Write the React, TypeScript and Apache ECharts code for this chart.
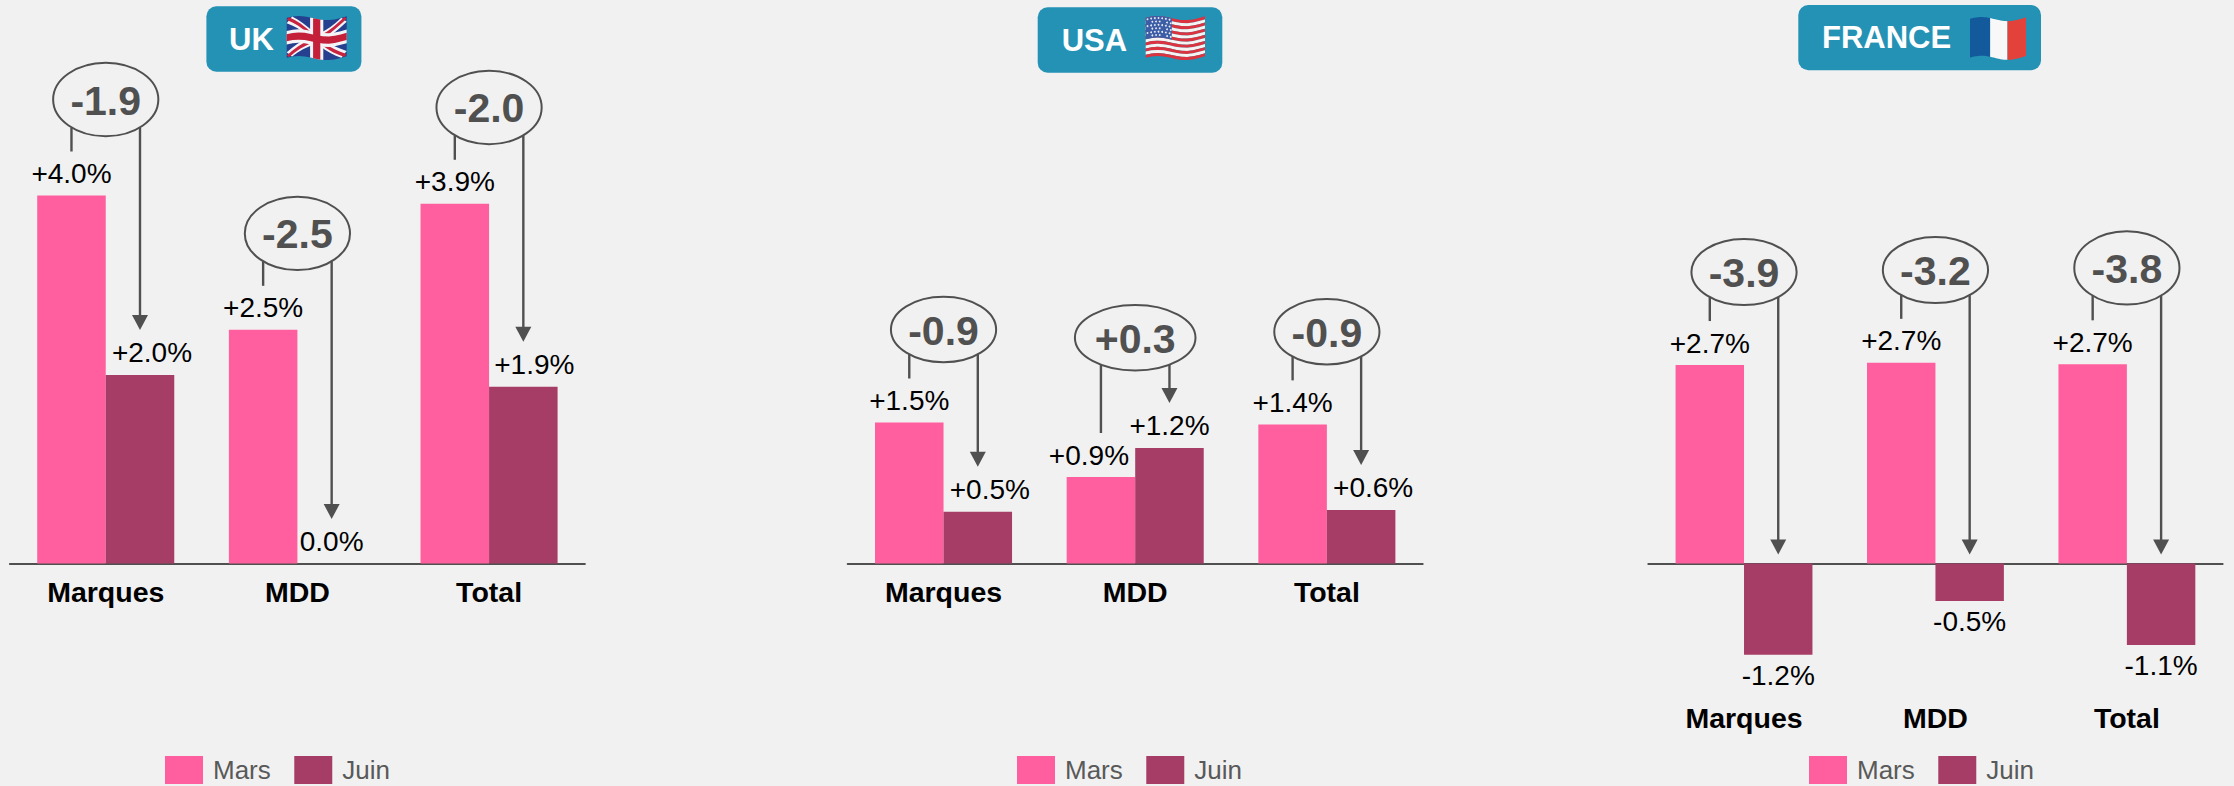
import React, { useEffect, useRef } from "react";
import * as echarts from "echarts";

const CATEGORIES = ["Marques", "MDD", "Total"];

const UK_MARS = [4.0, 2.54, 3.91];
const UK_JUIN = [2.05, 0, 1.92];
const UK_MARS_LABELS = ["+4.0%", "+2.5%", "+3.9%"];
const UK_JUIN_LABELS = ["+2.0%", "0.0%", "+1.9%"];
const UK_DELTAS = ["-1.9", "-2.5", "-2.0"];

const USA_MARS = [1.5, 0.92, 1.48];
const USA_JUIN = [0.55, 1.23, 0.57];
const USA_MARS_LABELS = ["+1.5%", "+0.9%", "+1.4%"];
const USA_JUIN_LABELS = ["+0.5%", "+1.2%", "+0.6%"];
const USA_DELTAS = ["-0.9", "+0.3", "-0.9"];

const FR_MARS = [2.7, 2.73, 2.71];
const FR_JUIN = [-1.24, -0.51, -1.11];
const FR_MARS_LABELS = ["+2.7%", "+2.7%", "+2.7%"];
const FR_JUIN_LABELS = ["-1.2%", "-0.5%", "-1.1%"];
const FR_DELTAS = ["-3.9", "-3.2", "-3.8"];

const FONT = '"Liberation Sans", Arial, sans-serif';
const BG = "#f1f1f1";
const PINK = "#ff5f9e";
const PLUM = "#a63d66";
const INK = "#505050";
const BADGE = "#2492b5";
const BAR_GAP = 0.285;

const PANELS = [
  {
    title: "UK", mars: UK_MARS, juin: UK_JUIN, marsLabels: UK_MARS_LABELS, juinLabels: UK_JUIN_LABELS, deltas: UK_DELTAS,
    grid: { left: 9.9, width: 575, top: 103.5, height: 460 }, min: 0, max: 5, interval: 1, labelMargin: 14, legendLeft: 165,
    marsShift: [0, 0, 0], juinShift: [12, 0, 11], lifts: [96, 96.4, 96.3], rys: [36.7, 36.7, 36.7],
    badge: { x: 206.4, y: 6.3, w: 155, h: 65.4, tx: 229, fx: 286.7, fy: 18, fw: 60, fh: 40 },
  },
  {
    title: "USA", mars: USA_MARS, juin: USA_JUIN, marsLabels: USA_MARS_LABELS, juinLabels: USA_JUIN_LABELS, deltas: USA_DELTAS,
    grid: { left: 847.7, width: 575, top: 93.5, height: 470 }, min: 0, max: 5, interval: 1, labelMargin: 14, legendLeft: 1017,
    marsShift: [0, -12, 0], juinShift: [12, 0, 12], lifts: [93, 139.3, 92.6], rys: [32.8, 32.8, 32.8],
    badge: { x: 1037.7, y: 7.3, w: 184.6, h: 65.4, tx: 1061.7, fx: 1145.7, fy: 18, fw: 59.3, fh: 40 },
  },
  {
    title: "FRANCE", mars: FR_MARS, juin: FR_JUIN, marsLabels: FR_MARS_LABELS, juinLabels: FR_JUIN_LABELS, deltas: FR_DELTAS,
    grid: { left: 1648.3, width: 574.3, top: 269.5, height: 426.3 }, min: -1.8, max: 4, interval: 0.2, labelMargin: 8, legendLeft: 1809,
    marsShift: [0, 0, 0], juinShift: [0, 0, 0], lifts: [93, 92.8, 96.4], rys: [33, 33, 36.6],
    badge: { x: 1798.3, y: 5, w: 242.7, h: 65.3, tx: 1822, fx: 1970, fy: 19, fw: 56, fh: 38.7 },
  },
];

type Pt = [number, number];

function flagWarp(b: any) {
  return ([u, v]: Pt): Pt => [
    b.fx + u * b.fw,
    b.fy + v * b.fh + 2.4 * Math.sin(u * Math.PI * 2 + 0.4) * -1 - 1.4 * (u - 0.5),
  ];
}

function warpPoly(points: Pt[], warp: (p: Pt) => Pt, steps = 10): Pt[] {
  const out: Pt[] = [];
  points.forEach((p, i) => {
    const q = points[(i + 1) % points.length];
    for (let s = 0; s < steps; s++) {
      const t = s / steps;
      out.push(warp([p[0] + (q[0] - p[0]) * t, p[1] + (q[1] - p[1]) * t]));
    }
  });
  return out;
}

function flagElements(title: string, b: any) {
  const warp = flagWarp(b);
  const poly = (pts: Pt[], fill: string) => ({
    type: "polygon",
    silent: true,
    shape: { points: warpPoly(pts, warp) },
    style: { fill },
  });
  const rect = (u0: number, v0: number, u1: number, v1: number, fill: string) =>
    poly([[u0, v0], [u1, v0], [u1, v1], [u0, v1]], fill);
  const els: any[] = [];
  if (title === "UK") {
    els.push(rect(0, 0, 1, 1, "#24408e"));
    const d = 0.09;
    const diag = (w: number, fill: string) => {
      els.push(poly([[0, w * 1.5], [w, 0], [1, 1 - w * 1.5], [1 - w, 1]], fill));
      els.push(poly([[1 - w, 0], [1, w * 1.5], [w, 1], [0, 1 - w * 1.5]], fill));
    };
    diag(d, "#f4f4f6");
    diag(d * 0.42, "#c8243f");
    els.push(rect(0.39, 0, 0.61, 1, "#f4f4f6"));
    els.push(rect(0, 0.33, 1, 0.67, "#f4f4f6"));
    els.push(rect(0.44, 0, 0.56, 1, "#c4203a"));
    els.push(rect(0, 0.41, 1, 0.59, "#c4203a"));
  } else if (title === "USA") {
    for (let i = 0; i < 13; i++) {
      els.push(rect(0, i / 13, 1, (i + 1) / 13, i % 2 ? "#f6f3f3" : "#d9343f"));
    }
    els.push(rect(0, 0, 0.44, 7 / 13, "#3d5da6"));
    for (let r = 0; r < 6; r++) {
      for (let c = 0; c < 7; c++) {
        const [x, y] = warp([0.03 + c * 0.062 + (r % 2) * 0.02, 0.05 + r * 0.085]);
        els.push({ type: "circle", silent: true, shape: { cx: x, cy: y, r: 0.9 }, style: { fill: "#e8ecf5" } });
      }
    }
  } else {
    els.push(rect(0, 0, 0.36, 1, "#135a9c"));
    els.push(rect(0.36, 0, 0.67, 1, "#f8f8f8"));
    els.push(rect(0.67, 0, 1, 1, "#e2423a"));
  }
  return els;
}

function badgeElements(p: any) {
  const b = p.badge;
  return [
    {
      type: "rect",
      silent: true,
      shape: { x: b.x, y: b.y, width: b.w, height: b.h, r: 10 },
      style: { fill: BADGE },
    },
    {
      type: "text",
      silent: true,
      x: b.tx,
      y: b.y + b.h / 2,
      style: { text: p.title, fill: "#ffffff", font: `bold 31px ${FONT}`, align: "left", verticalAlign: "middle" },
    },
    ...flagElements(p.title, b),
  ];
}

function renderAnnotation(panel: any) {
  return (params: any, api: any) => {
    const i = api.value(0);
    const mars = api.value(1);
    const juin = api.value(2);
    const catWidth = api.size([1, 0])[0];
    const barW = (catWidth * (1 - BAR_GAP)) / 2;
    const [cx] = api.coord([i, 0]);
    const axisY = api.coord([i, 0])[1];
    const marsTop = api.coord([i, mars])[1];
    const juinTop = api.coord([i, juin])[1];
    const cy = marsTop - panel.lifts[i];
    const text = panel.deltas[i];
    const rx = text.startsWith("+") ? 60.3 : 52.6;
    const ry = panel.rys[i];
    const lx = cx - barW / 2;
    const ax = cx + barW / 2;
    const dy = ry * Math.sqrt(1 - (barW / 2 / rx) ** 2);
    const tip = juin > 0.001 ? juinTop - 45 : juin < 0 ? axisY - 9 : axisY - 44.5;
    const line = { stroke: INK, lineWidth: 2.4 };
    return {
      type: "group",
      silent: true,
      children: [
        { type: "line", shape: { x1: lx, y1: cy + dy, x2: lx, y2: marsTop - 44 }, style: line },
        { type: "line", shape: { x1: ax, y1: cy + dy, x2: ax, y2: tip - 13 }, style: line },
        {
          type: "polygon",
          shape: { points: [[ax - 8, tip - 15], [ax + 8, tip - 15], [ax, tip]] },
          style: { fill: INK },
        },
        {
          type: "ellipse",
          shape: { cx, cy, rx, ry },
          style: { fill: "none", stroke: INK, lineWidth: 2 },
        },
        {
          type: "text",
          x: cx,
          y: cy + 1,
          style: { text, fill: INK, font: `bold 41px ${FONT}`, align: "center", verticalAlign: "middle" },
        },
      ],
    };
  };
}

function barData(values: number[], labels: string[], shifts: number[]) {
  return values.map((value, i) => ({
    value,
    label: {
      show: true,
      formatter: labels[i],
      position: value < 0 ? "bottom" : "top",
      distance: value < 0 ? 6.5 : 8,
      offset: [shifts[i], 0],
      color: "#000000",
      fontFamily: FONT,
      fontSize: 28,
    },
  }));
}

function buildOption() {
  const grids = PANELS.map((p) => ({ ...p.grid, containLabel: false, outerBoundsMode: "none" }));
  const xAxes = PANELS.map((p, g) => ({
    type: "category",
    gridIndex: g,
    data: CATEGORIES,
    axisTick: { show: false },
    axisLine: { show: true, onZero: true, lineStyle: { color: INK, width: 2 } },
    axisLabel: {
      interval: 0,
      margin: p.labelMargin,
      color: "#000000",
      fontFamily: FONT,
      fontWeight: "bold",
      fontSize: 28.5,
    },
  }));
  const yAxes = PANELS.map((p, g) => ({
    type: "value",
    gridIndex: g,
    min: p.min,
    max: p.max,
    interval: p.interval,
    show: false,
    splitLine: { show: false },
  }));
  const series: any[] = [];
  PANELS.forEach((p, g) => {
    series.push({
      type: "bar",
      name: "Mars",
      xAxisIndex: g,
      yAxisIndex: g,
      barGap: 0,
      barCategoryGap: `${BAR_GAP * 100}%`,
      itemStyle: { color: PINK },
      data: barData(p.mars, p.marsLabels, p.marsShift),
    });
    series.push({
      type: "bar",
      name: "Juin",
      xAxisIndex: g,
      yAxisIndex: g,
      barGap: 0,
      barCategoryGap: `${BAR_GAP * 100}%`,
      itemStyle: { color: PLUM },
      data: barData(p.juin, p.juinLabels, p.juinShift),
    });
    series.push({
      type: "custom",
      name: `Écart ${p.title}`,
      xAxisIndex: g,
      yAxisIndex: g,
      clip: false,
      z: 5,
      silent: true,
      encode: { x: 0, y: 1 },
      data: CATEGORIES.map((_, i) => [i, p.mars[i], p.juin[i]]),
      renderItem: renderAnnotation(p),
    });
  });
  return {
    animation: false,
    backgroundColor: BG,
    grid: grids,
    xAxis: xAxes,
    yAxis: yAxes,
    legend: PANELS.map((p) => ({
      data: ["Mars", "Juin"],
      left: p.legendLeft,
      top: 756,
      padding: 0,
      itemWidth: 38,
      itemHeight: 28,
      itemGap: 23.5,
      icon: "rect",
      selectedMode: false,
      textStyle: { color: "#595959", fontFamily: FONT, fontSize: 26, padding: [0, 0, 0, 5] },
    })),
    graphic: PANELS.flatMap(badgeElements),
    series,
  };
}

export default function App() {
  const ref = useRef<HTMLDivElement>(null);
  useEffect(() => {
    document.body.style.margin = "0";
    document.body.style.background = BG;
    const chart = echarts.init(ref.current!, undefined, { renderer: "svg" });
    chart.setOption(buildOption() as any);
    return () => chart.dispose();
  }, []);
  return <div ref={ref} style={{ width: 2234, height: 786 }} />;
}
